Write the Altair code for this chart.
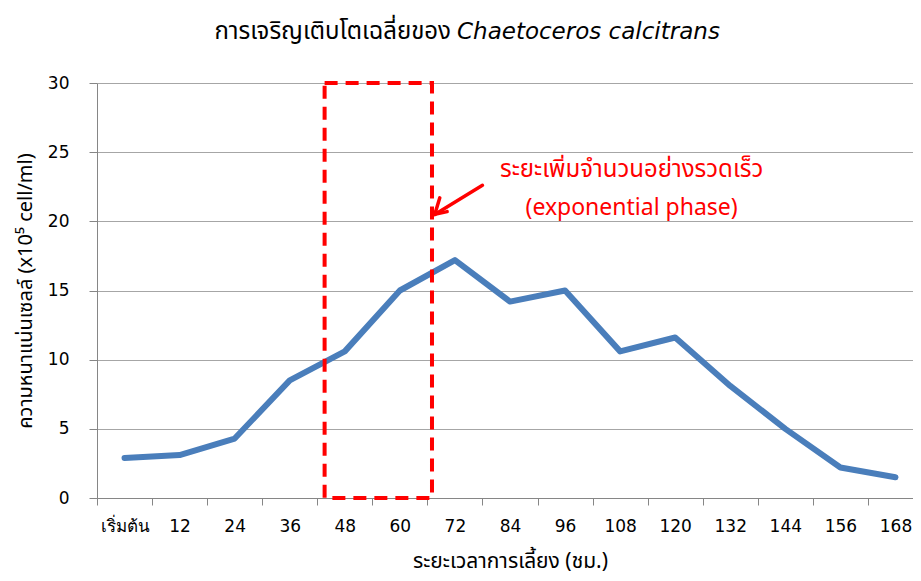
import altair as alt
import pandas as pd

# ---- data ----
categories = ["เริ่มต้น", "12", "24", "36", "48", "60", "72", "84", "96",
              "108", "120", "132", "144", "156", "168"]
density = [2.9, 3.1, 4.3, 8.5, 10.6, 15.0, 17.2, 14.2, 15.0, 10.6, 11.6, 8.1, 5.0, 2.2, 1.5]

# exponential-phase box (hours, density)
phase_x = [43.6, 67.0]
phase_y = [0, 30]

# arrow segments (hours, density): shaft, two head wings
arrow_x1 = [78.0, 67.6, 67.6]
arrow_y1 = [22.6, 20.5, 20.5]
arrow_x2 = [67.6, 68.7, 70.3]
arrow_y2 = [20.5, 21.7, 20.7]

note_thai = ["ระยะเพิ่มจำนวนอย่างรวดเร็ว"]
note_eng = ["(exponential phase)"]
note_x = [110.5]
note_y_thai = [23.7]
note_y_eng = [21.0]

title_thai = "การเจริญเติบโตเฉลี่ยของ"
title_species = "Chaetoceros calcitrans"
x_title = "ระยะเวลาการเลี้ยง (ชม.)"
y_title = "ความหนาแน่นเซลล์ (x10⁵ cell/ml)"

# ---- layout ----
W = 816
RANGE = 826
H = 415
FONT = "DejaVu Sans"
THAI = "Noto Sans Thai, Tahoma, Noto Sans, DejaVu Sans"
GREY = "#868686"

df = pd.DataFrame({"t": categories, "d": density})
yscale = alt.Scale(domain=[0, 30], nice=False)
hscale = alt.Scale(domain=[-6, 174], range=[0, RANGE], nice=False, zero=False)
yaxis = alt.Axis(title=y_title, values=[0, 5, 10, 15, 20, 25, 30],
                 gridColor="#A6A6A6", domainColor=GREY, tickColor=GREY, tickSize=8,
                 labelPadding=20, labelFont=FONT, labelFontSize=17, labelColor="#000000",
                 titleFont=THAI, titleFontSize=20, titleFontWeight="normal",
                 titleColor="#000000", titlePadding=12)

line = alt.Chart(df).mark_line(
    color="#4A7EBB", strokeWidth=6, strokeCap="round", strokeJoin="round"
).encode(
    x=alt.X("t:N", sort=categories,
            scale=alt.Scale(type="band", range=[0, RANGE], paddingInner=0, paddingOuter=0),
            axis=alt.Axis(title=x_title, labelAngle=0, tickBand="extent", grid=False,
                          domainColor=GREY, tickColor=GREY, tickSize=7, labelPadding=13,
                          labelFont=FONT, labelFontSize=17, labelColor="#000000",
                          titleFont=THAI, titleFontSize=21, titleFontWeight="normal",
                          titleColor="#000000", titlePadding=16)),
    y=alt.Y("d:Q", scale=yscale, axis=yaxis),
)

box_df = pd.DataFrame({"x1": [phase_x[0]], "x2": [phase_x[1]], "y1": [phase_y[0]], "y2": [phase_y[1]]})
box = alt.Chart(box_df).mark_rect(
    fillOpacity=0, stroke="#FF0000", strokeWidth=4, strokeDash=[13, 8]
).encode(
    x=alt.X("x1:Q", scale=hscale, axis=None),
    x2="x2:Q",
    y=alt.Y("y1:Q", scale=yscale, axis=yaxis),
    y2="y2:Q",
)

arrow_df = pd.DataFrame({"x1": arrow_x1, "y1": arrow_y1, "x2": arrow_x2, "y2": arrow_y2})
arrow = alt.Chart(arrow_df).mark_rule(color="#FF0000", strokeWidth=3.5, strokeCap="round").encode(
    x=alt.X("x1:Q", scale=hscale, axis=None),
    x2="x2:Q",
    y=alt.Y("y1:Q", scale=yscale, axis=yaxis),
    y2="y2:Q",
)

def note_layer(lines, ys, size):
    d = pd.DataFrame({"txt": lines, "x": note_x, "y": ys})
    return alt.Chart(d).mark_text(
        color="#FF0000", font=THAI, fontSize=size, align="center", baseline="middle"
    ).encode(
        x=alt.X("x:Q", scale=hscale, axis=None),
        y=alt.Y("y:Q", scale=yscale, axis=yaxis),
        text="txt:N",
    )

note1 = note_layer(note_thai, note_y_thai, 24)
note2 = note_layer(note_eng, note_y_eng, 23)

one = pd.DataFrame({"a": [0]})
t1 = alt.Chart(one).mark_text(
    font=THAI, fontSize=24, align="right", baseline="middle", color="#000000"
).encode(x=alt.value(354), y=alt.value(-51), text=alt.value(title_thai))
t2 = alt.Chart(one).mark_text(
    font=FONT, fontSize=23, fontStyle="italic", align="left", baseline="middle", color="#000000"
).encode(x=alt.value(360), y=alt.value(-51), text=alt.value(title_species))

chart = alt.layer(line, box, arrow, note1, note2, t1, t2).resolve_scale(x="independent").properties(
    width=W, height=H,
    autosize=alt.AutoSizeParams(type="none"),
    padding={"left": 89, "top": 75, "right": 0, "bottom": 83},
).configure(background="#FFFFFF").configure_view(stroke=None)

chart.save("out.html", embed_options={"renderer": "svg", "actions": False})
